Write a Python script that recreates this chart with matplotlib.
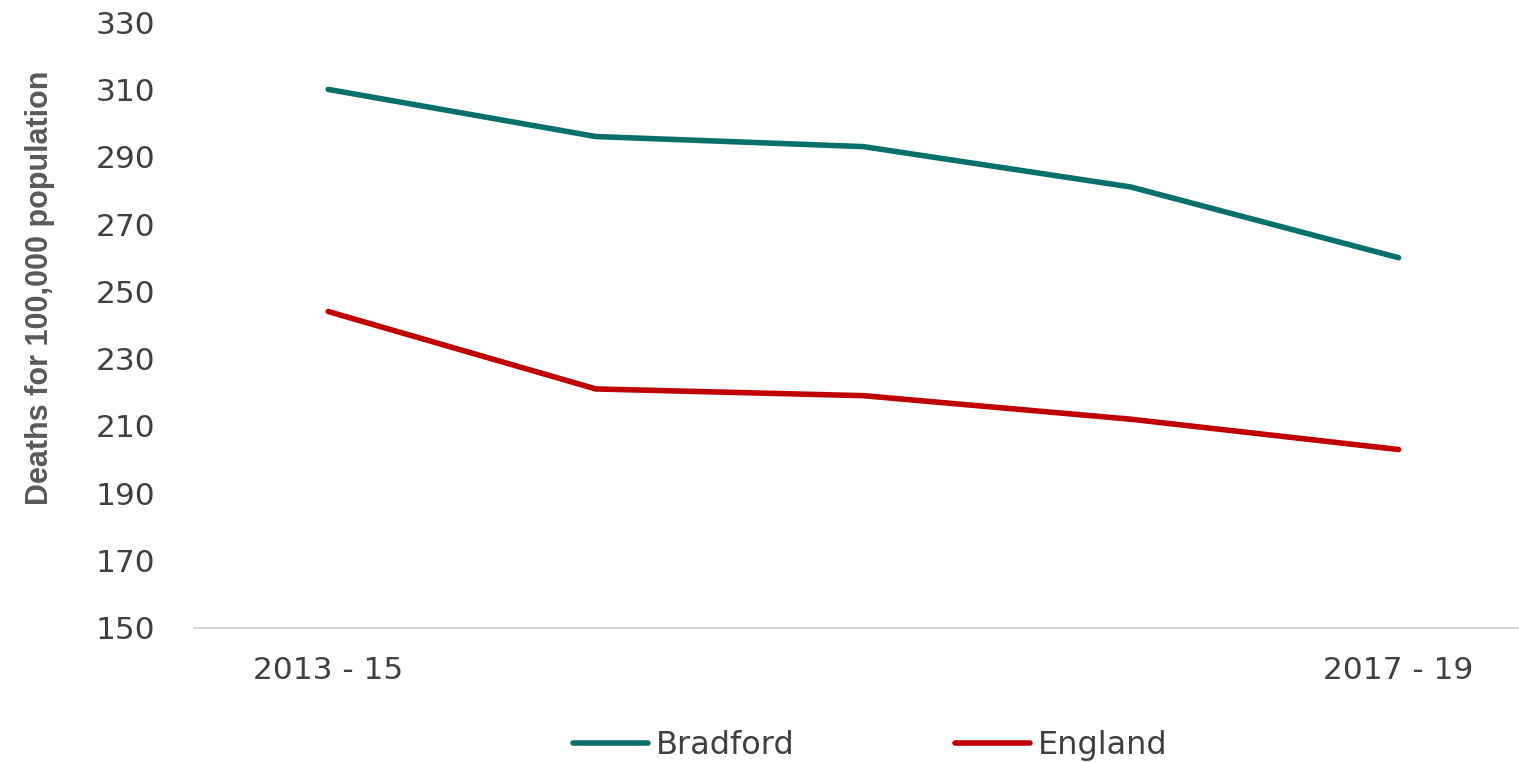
import matplotlib.pyplot as plt

periods = ["2013 - 15", "2014 - 16", "2015 - 17", "2016 - 18", "2017 - 19"]
tick_labels = ["2013 - 15", "", "", "", "2017 - 19"]
bradford = [310, 296, 293, 281, 260]
england = [244, 221, 219, 212, 203]

fig = plt.figure(figsize=(15.19, 7.62), dpi=100)
ax = fig.add_axes([0.128, 0.176, 0.872, 0.795])

x = range(len(periods))
ax.plot(x, bradford, color="#08706b", lw=4, label="Bradford", solid_capstyle="round")
ax.plot(x, england, color="#c00000", lw=4, label="England", solid_capstyle="round")

ax.set_xlim(-0.5, 4.45)
ax.set_ylim(150, 330)
ax.set_yticks(range(150, 331, 20))
ax.set_xticks(list(x))
ax.set_xticklabels(tick_labels)
ax.tick_params(axis="both", length=0, labelsize=22.5, labelcolor="#404040")
ax.tick_params(axis="x", pad=20)
ax.tick_params(axis="y", pad=28)

for s in ["top", "right", "left"]:
    ax.spines[s].set_visible(False)
ax.spines["bottom"].set_color("#d0d0d0")
ax.spines["bottom"].set_linewidth(1.2)

ax.set_ylabel("Deaths for 100,000 population", fontsize=22, fontweight="bold",
              color="#595959", family="Liberation Sans")
ax.yaxis.set_label_coords(-0.105, 0.561)

fig.legend(loc="center", bbox_to_anchor=(0.573, 0.022), ncol=2, frameon=False,
           fontsize=23, handlelength=2.35, handletextpad=0.25, columnspacing=5,
           labelcolor="#404040", borderpad=0)

fig.savefig("out.png", dpi=100)
